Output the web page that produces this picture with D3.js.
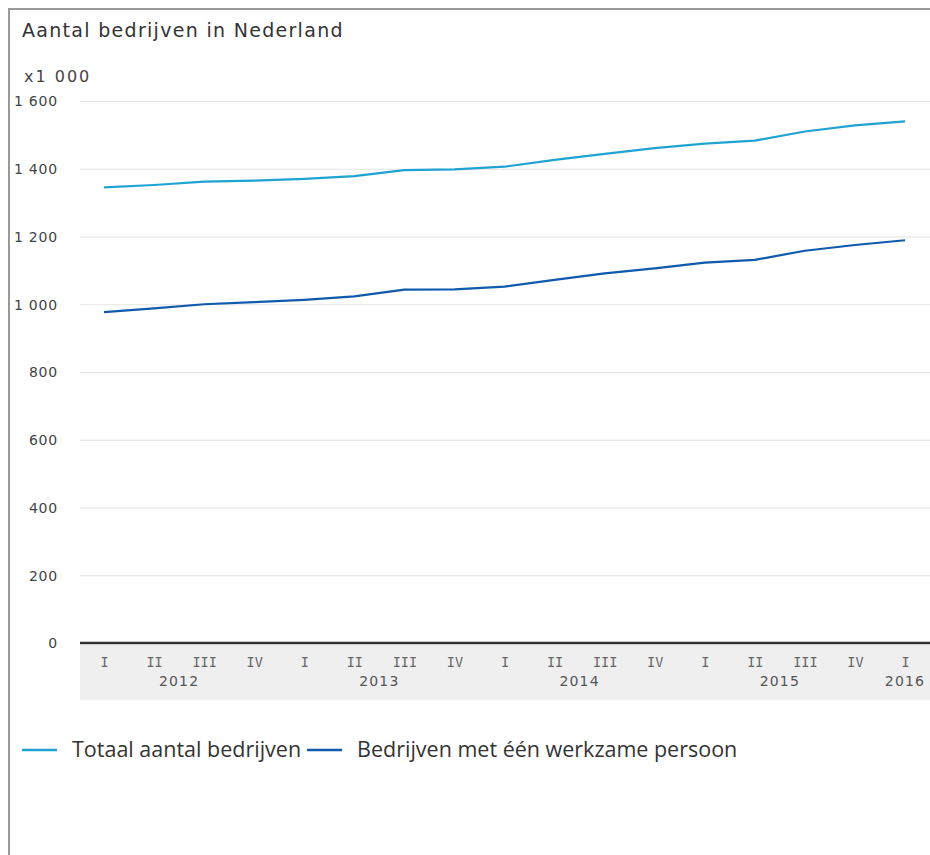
<!DOCTYPE html>
<html>
<head>
<meta charset="utf-8">
<script src="https://cdn.jsdelivr.net/npm/d3@7"></script>
<style>
  html, body { margin: 0; padding: 0; background: #fff; }
  svg { display: block; }
</style>
</head>
<body>
<svg id="chart" width="930" height="855"></svg>
<script>
// Quarterly count of businesses in the Netherlands (x 1 000)
const quarters = ["I","II","III","IV","I","II","III","IV","I","II","III","IV","I","II","III","IV","I"];
const quarterYears = [2012,2012,2012,2012,2013,2013,2013,2013,2014,2014,2014,2014,2015,2015,2015,2015,2016];
const years = [2012, 2013, 2014, 2015, 2016];
const totaalBedrijven = [1345, 1352, 1362, 1365, 1370, 1378, 1396, 1398, 1406, 1426, 1444, 1461, 1474, 1483, 1510, 1528, 1540];
const eenPersoonBedrijven = [977, 988, 1000, 1006, 1013, 1023, 1043, 1044, 1052, 1072, 1091, 1106, 1123, 1131, 1158, 1175, 1189];
const yTicks = [0, 200, 400, 600, 800, 1000, 1200, 1400, 1600];
const seriesNames = ["Totaal aantal bedrijven", "Bedrijven met één werkzame persoon"];
const seriesColors = ["#1fa3d3", "#0f5aad"];

const svg = d3.select("#chart");
const plotLeft = 80, plotRight = 930, plotTop = 101, plotBottom = 643;
const font = "'DejaVu Sans', Verdana, sans-serif";
const numeralFont = "'DejaVu Sans Mono', monospace";
const nl = d3.formatLocale({ decimal: ",", thousands: "\u00a0", grouping: [3], currency: ["€", ""] });

// frame
svg.append("path")
  .attr("d", `M9,855 V9 H930`)
  .attr("fill", "none")
  .attr("stroke", "#9a9a9a")
  .attr("stroke-width", 2);

// title and unit
svg.append("text")
  .attr("x", 22).attr("y", 37)
  .attr("font-family", font).attr("font-size", 19)
  .attr("letter-spacing", 1.3)
  .attr("fill", "#333")
  .text("Aantal bedrijven in Nederland");

svg.append("text")
  .attr("x", 24).attr("y", 82)
  .attr("font-family", font).attr("font-size", 16)
  .attr("letter-spacing", 2)
  .attr("fill", "#444")
  .text("x1 000");

const idx = d3.range(quarters.length);
const x = d3.scalePoint().domain(idx).range([104, 905]);
const y = d3.scaleLinear().domain([0, 1600]).range([plotBottom, plotTop]);

// category band under the axis
svg.append("rect")
  .attr("x", plotLeft).attr("y", plotBottom + 2)
  .attr("width", plotRight - plotLeft).attr("height", 55)
  .attr("fill", "#efefef");

// y axis with gridlines
const yAxis = svg.append("g")
  .attr("transform", `translate(${plotLeft},0)`)
  .call(d3.axisLeft(y).tickValues(yTicks)
    .tickSize(-(plotRight - plotLeft)).tickPadding(22)
    .tickFormat(nl.format(",d")));
yAxis.select(".domain").remove();
yAxis.selectAll(".tick line").attr("stroke", "#e4e4e4").attr("stroke-width", 1);
yAxis.selectAll(".tick text")
  .attr("font-family", font).attr("font-size", 14)
  .attr("letter-spacing", 0.8)
  .attr("fill", "#444").attr("dy", "0.35em");

// x axis baseline
svg.append("line")
  .attr("x1", plotLeft).attr("x2", plotRight)
  .attr("y1", y(0)).attr("y2", y(0))
  .attr("stroke", "#333").attr("stroke-width", 2.5);

// quarter labels
const xAxis = svg.append("g")
  .attr("transform", `translate(0,${plotBottom})`)
  .call(d3.axisBottom(x).tickSize(0).tickPadding(0).tickFormat(i => quarters[i]));
xAxis.select(".domain").remove();
xAxis.selectAll(".tick text")
  .attr("y", 24).attr("dy", 0)
  .attr("font-family", numeralFont).attr("font-size", 13.5)
  .attr("fill", "#666");

// year labels centred under their quarters
svg.append("g").selectAll("text")
  .data(years)
  .join("text")
  .attr("x", yr => {
    const q = idx.filter(i => quarterYears[i] === yr);
    return q.length === 4 ? (x(q[1]) + x(q[2])) / 2 : x(q[0]);
  })
  .attr("y", plotBottom + 43)
  .attr("text-anchor", "middle")
  .attr("font-family", font).attr("font-size", 14)
  .attr("letter-spacing", 1.2)
  .attr("fill", "#555")
  .text(d => d);

// lines
const line = d3.line().x((d, i) => x(i)).y(d => y(d));
[totaalBedrijven, eenPersoonBedrijven].forEach((vals, k) => {
  svg.append("path")
    .datum(vals)
    .attr("d", line)
    .attr("fill", "none")
    .attr("stroke", seriesColors[k])
    .attr("stroke-width", 2.2)
    .attr("stroke-linejoin", "round");
});

// legend
const legendFont = "'Open Sans', 'Noto Sans', sans-serif";
const legendY = 750;
let lx = 22;
seriesNames.forEach((name, k) => {
  svg.append("line")
    .attr("x1", lx).attr("x2", lx + 35)
    .attr("y1", legendY).attr("y2", legendY)
    .attr("stroke", seriesColors[k]).attr("stroke-width", 2.5);
  const t = svg.append("text")
    .attr("x", lx + 50).attr("y", legendY + 7)
    .attr("font-family", legendFont).attr("font-size", 21.5)
    .attr("fill", "#333")
    .text(name);
  lx = lx + 50 + t.node().getComputedTextLength() + 6;
});
</script>
</body>
</html>
